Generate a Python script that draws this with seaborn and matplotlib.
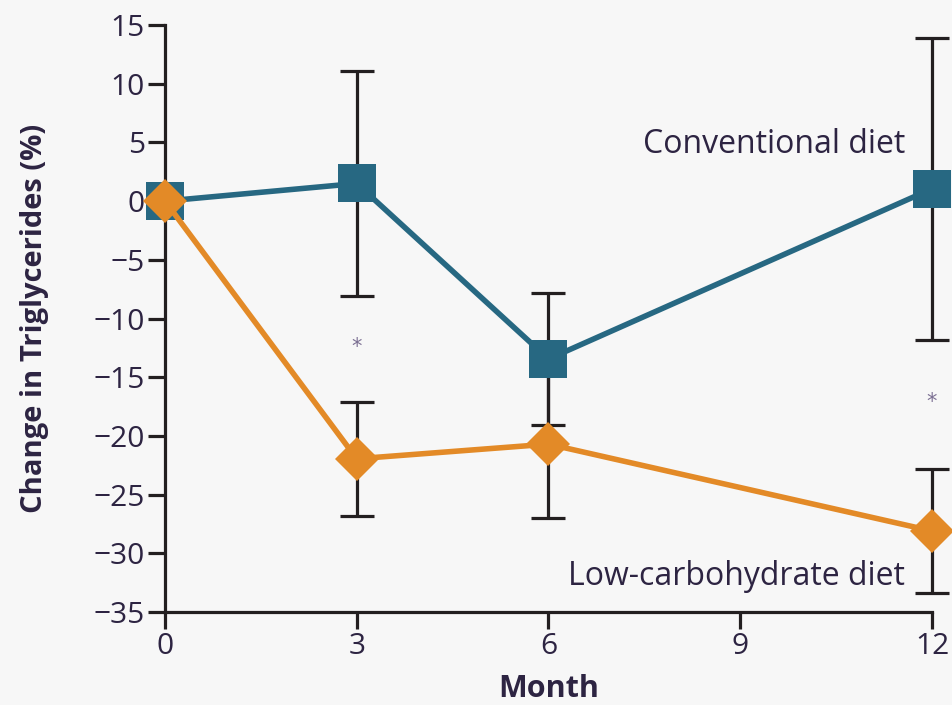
import matplotlib
matplotlib.use("Agg")
import matplotlib.pyplot as plt
import seaborn as sns
import pandas as pd

# Triglyceride change by month for the two diet groups
months = [0, 3, 6, 12]
conventional = [0.0, 1.5, -13.45, 1.05]
conventional_err = [0.0, 9.6, 5.65, 12.85]
low_carb = [0.0, -21.95, -20.7, -28.1]
low_carb_err = [0.0, 4.85, 6.3, 5.3]
diet_names = ["Conventional diet", "Low-carbohydrate diet"]
x_ticks = [0, 3, 6, 9, 12]
y_ticks = [-35, -30, -25, -20, -15, -10, -5, 0, 5, 10, 15]
# significance stars (month, value)
star_months = [3, 12]
star_values = [-12.4, -17.1]

teal = "#276882"
orange = "#e38a27"
ink = "#2d2442"
bg = "#f7f7f7"

sns.set_theme(style="ticks")
plt.rcParams["font.family"] = ["Open Sans", "DejaVu Sans"]

df = pd.DataFrame({
    "Month": months * 2,
    "Change": conventional + low_carb,
    "Err": conventional_err + low_carb_err,
    "Diet": [diet_names[0]] * len(months) + [diet_names[1]] * len(months),
})

fig = plt.figure(figsize=(9.53, 7.05), dpi=100, facecolor=bg)
ax = fig.add_axes([165 / 953, 1 - 612 / 705, (932 - 165) / 953, (612 - 25) / 705])
ax.set_facecolor(bg)

# error bars underneath the markers
for name, color in zip(diet_names, [teal, orange]):
    sub = df[(df["Diet"] == name) & (df["Err"] > 0)]
    ax.errorbar(sub["Month"], sub["Change"], yerr=sub["Err"], fmt="none",
                ecolor="#231f20", elinewidth=2.3, capsize=12.5, capthick=2.3,
                zorder=2, clip_on=False)

sns.lineplot(data=df[df["Diet"] == diet_names[0]], x="Month", y="Change",
             color=teal, marker="s", markersize=28, markeredgewidth=0,
             linewidth=4.0, ax=ax, zorder=3, clip_on=False, legend=False)
sns.lineplot(data=df[df["Diet"] == diet_names[1]], x="Month", y="Change",
             color=orange, marker="D", markersize=22, markeredgewidth=0,
             linewidth=4.0, ax=ax, zorder=4, clip_on=False, legend=False)

for sx, sy in zip(star_months, star_values):
    ax.text(sx, sy, "*", ha="center", va="center", fontsize=15,
            color="#7b6f92", family=["DejaVu Sans"])

ax.text(11.58, 4.1, diet_names[0], ha="right", va="baseline",
        fontsize=23, color=ink)
ax.text(11.58, -32.7, diet_names[1], ha="right", va="baseline",
        fontsize=23, color=ink)

ax.set_xlim(0, 12)
ax.set_ylim(-35, 15)
ax.set_xticks(x_ticks)
ax.set_yticks(y_ticks)
sns.despine(ax=ax)
for side in ["left", "bottom"]:
    ax.spines[side].set_linewidth(2.3)
    ax.spines[side].set_color("#231f20")
ax.tick_params(axis="both", length=12.5, width=2.3, color="#231f20",
               labelsize=21.5, labelcolor=ink, pad=2)

ax.set_xlabel("Month", fontsize=22, fontweight="bold", color=ink, labelpad=9)
ax.set_ylabel("Change in Triglycerides (%)", fontsize=21, fontweight="bold",
              color=ink, labelpad=32)

fig.savefig("out.png", dpi=100, facecolor=bg)
